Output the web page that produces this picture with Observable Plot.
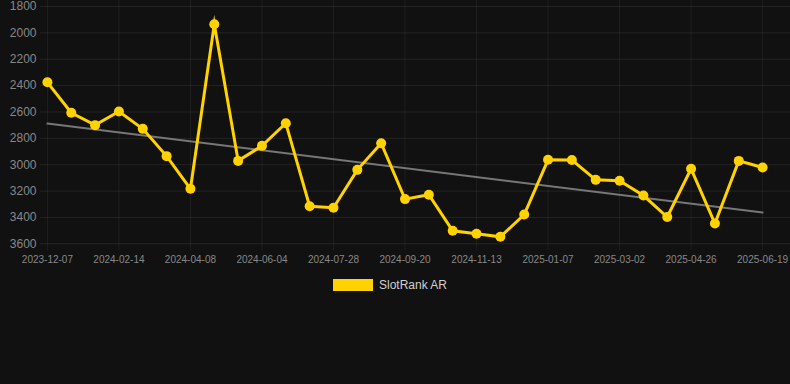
<!DOCTYPE html>
<html>
<head>
<meta charset="utf-8">
<script src="https://cdn.jsdelivr.net/npm/d3@7"></script>
<script src="https://cdn.jsdelivr.net/npm/@observablehq/plot@0.6"></script>
<style>
  html, body { margin: 0; padding: 0; background: #111111; }
  #wrap { position: relative; width: 790px; height: 384px; background: #111111; font-family: "Liberation Sans", Arial, sans-serif; }
  #legend { position: absolute; left: 333px; top: 278px; display: flex; align-items: center; gap: 6px; font-size: 12px; color: #d0d0d0; }
  #legend .sw { width: 40px; height: 12px; background: #ffd200; }
</style>
</head>
<body>
<div id="wrap"><div id="chart"></div><div id="legend"><div class="sw"></div><span>SlotRank AR</span></div></div>
<script>
const seriesName = "SlotRank AR";
const values = [2375, 2606, 2700, 2597, 2728, 2935, 3183, 1934, 2971, 2857, 2685, 3315, 3327, 3039, 2837, 3261, 3228, 3501, 3524, 3547, 3378, 2963, 2965, 3115, 3122, 3234, 3397, 3031, 3446, 2971, 3021];
const tickLabels = ["2023-12-07", "2024-02-14", "2024-04-08", "2024-06-04", "2024-07-28", "2024-09-20", "2024-11-13", "2025-01-07", "2025-03-02", "2025-04-26", "2025-06-19"];
const yTicks = [1800, 2000, 2200, 2400, 2600, 2800, 3000, 3200, 3400, 3600];

const data = values.map((v, i) => ({i, v}));
const xTicks = tickLabels.map((_, k) => k * 3);

const chart = Plot.plot({
  width: 790,
  height: 270,
  marginLeft: 40,
  marginRight: 0,
  marginTop: 6,
  marginBottom: 26.7,
  style: {background: "#111111", fontFamily: "Liberation Sans, Arial, sans-serif"},
  x: {type: "linear", domain: [-0.29, 31.17]},
  y: {domain: [1800, 3600], reverse: true},
  marks: [
    Plot.ruleY(yTicks, {stroke: "#ffffff", strokeOpacity: 0.08}),
    Plot.ruleX(xTicks, {y1: 1754, y2: 3653, stroke: "#ffffff", strokeOpacity: 0.06}),
    Plot.axisY({ticks: yTicks, tickSize: 0, tickPadding: 4, fontSize: 12, color: "#888888", label: null,
      tickFormat: d => String(d)}),
    Plot.axisX({ticks: xTicks, tickSize: 0, tickPadding: 12, fontSize: 10, color: "#888888", label: null,
      tickFormat: d => tickLabels[Math.round(d / 3)]}),
    Plot.linearRegressionY(data, {x: "i", y: "v", ci: 0, stroke: "#777777", strokeWidth: 2}),
    Plot.line(data, {x: "i", y: "v", stroke: "#ffd200", strokeWidth: 3, strokeLinejoin: "miter", strokeMiterlimit: 10}),
    Plot.dot(data, {x: "i", y: "v", r: 5, fill: "#ffd200", stroke: "none"})
  ]
});
document.getElementById("chart").appendChild(chart);
</script>
</body>
</html>
